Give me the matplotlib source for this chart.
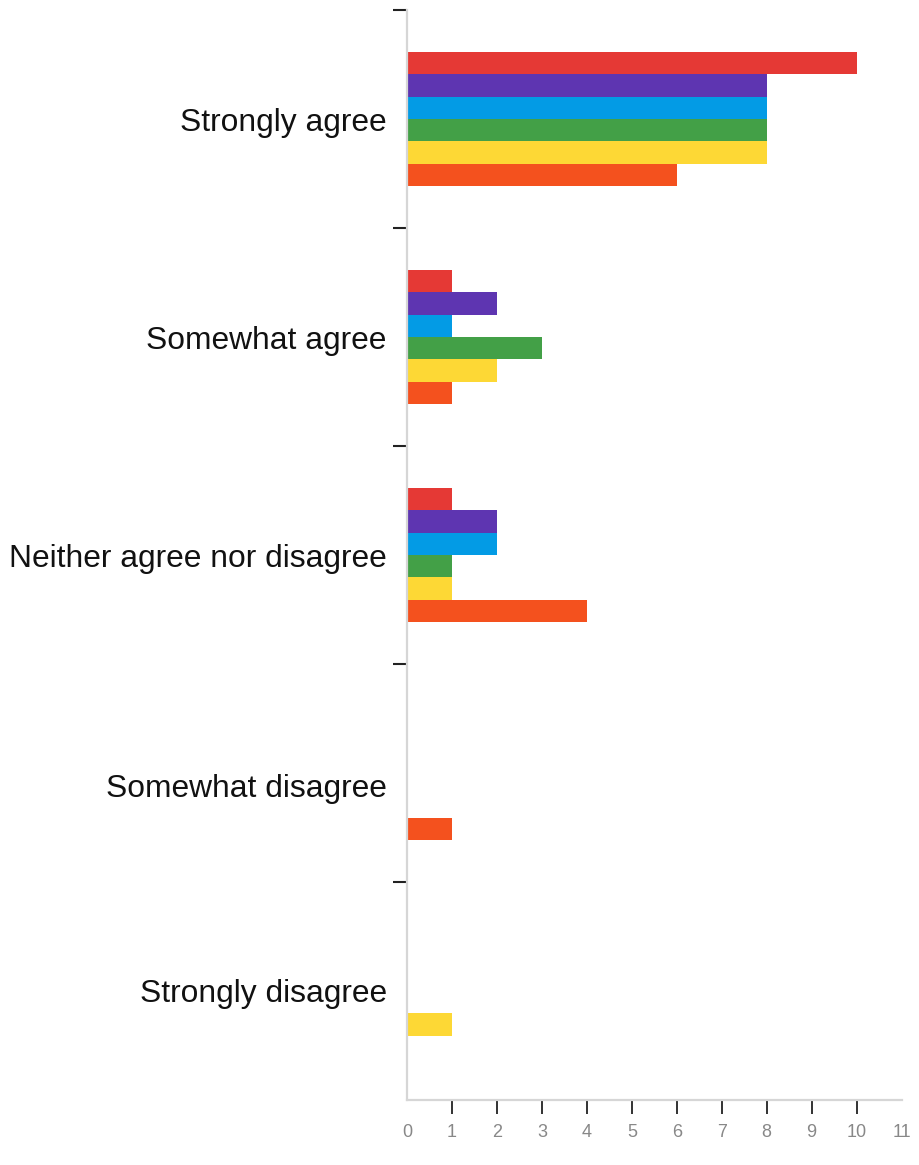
import numpy as np
import matplotlib
matplotlib.use("Agg")
import matplotlib.pyplot as plt
from matplotlib.transforms import ScaledTranslation

plt.rcParams['font.family'] = ['Liberation Sans', 'DejaVu Sans']

categories = ['Strongly agree', 'Somewhat agree', 'Neither agree nor disagree',
              'Somewhat disagree', 'Strongly disagree']

# one list per series, in the order the bars are stacked inside each group
red = [10, 1, 1, 0, 0]
purple = [8, 2, 2, 0, 0]
blue = [8, 1, 2, 0, 0]
green = [8, 3, 1, 0, 0]
yellow = [8, 2, 1, 0, 1]
orange = [6, 1, 4, 1, 0]

series = [red, purple, blue, green, yellow, orange]
colors = ['#E53935', '#5E35B1', '#039BE5', '#43A047', '#FDD835', '#F4511E']
x_ticks = list(range(0, 12))

fig = plt.figure(figsize=(9.2, 11.65), dpi=100)
ax = fig.add_axes([0.4424, 0.0558, 0.980 - 0.4424, 0.9914 - 0.0558])

y = np.arange(len(categories))
bar_h = 0.1023
nser = len(series)
for i, (vals, c) in enumerate(zip(series, colors)):
    ax.barh(y + (i - (nser - 1) / 2.0) * bar_h, vals, height=bar_h,
            color=c, edgecolor='none')

ax.set_xlim(0, 11)
ax.set_ylim(len(categories) - 0.5, -0.5)

for side in ['top', 'right']:
    ax.spines[side].set_visible(False)
for side in ['left', 'bottom']:
    ax.spines[side].set_color('#d6d6d6')
    ax.spines[side].set_linewidth(1.6)

# category names, no tick marks at the centres
ax.set_yticks(y)
ax.set_yticklabels(categories, fontsize=22.9, color='#111111')
ax.tick_params(axis='y', which='major', length=0, pad=14.5)
# short dashes on the group boundaries
ax.set_yticks(np.arange(-0.5, len(categories) - 0.5, 1.0), minor=True)
ax.tick_params(axis='y', which='minor', length=10, width=1.5, color='#222222')

# the "Somewhat disagree" label sits a little lower in the original
lbl = ax.get_yticklabels()[3]
lbl.set_transform(lbl.get_transform() +
                  ScaledTranslation(0, -0.12, fig.dpi_scale_trans))

ax.set_xticks(x_ticks)
ax.set_xticklabels([str(t) for t in x_ticks], fontsize=13, color='#888888')
ax.tick_params(axis='x', length=10, width=1.3, color='#222222', pad=7)
for t in ax.xaxis.get_major_ticks():
    if t.get_loc() in (0, 11):
        t.tick1line.set_visible(False)

fig.savefig('out.png', dpi=100)
